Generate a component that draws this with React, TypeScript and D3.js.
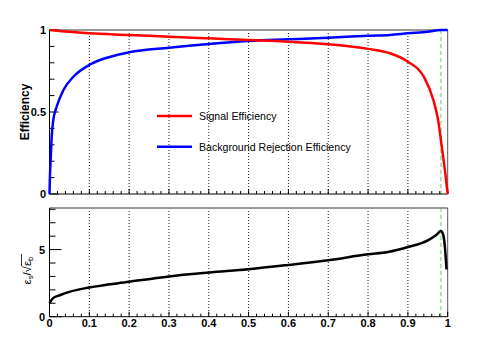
import React from "react";
import * as d3 from "d3";

// cut values (x axis) and the three curves
const sigCut = [0, 0.1, 0.2, 0.3, 0.4, 0.5, 0.6, 0.7, 0.8, 0.855, 0.9, 0.94, 0.964, 0.976, 0.985, 0.993, 1.0];
const sigEff = [1.0, 0.98, 0.97, 0.959, 0.949, 0.939, 0.929, 0.913, 0.885, 0.858, 0.807, 0.715, 0.573, 0.45, 0.29, 0.146, 0.0];

const bkgCut = [0, 0.001, 0.003, 0.0055, 0.0095, 0.018, 0.035, 0.06, 0.1, 0.127, 0.2, 0.3, 0.4, 0.5, 0.6, 0.7, 0.8, 0.855, 0.9, 0.95, 0.983, 1.0];
const bkgRej = [0, 0.1, 0.21, 0.35, 0.45, 0.532, 0.634, 0.715, 0.787, 0.817, 0.864, 0.892, 0.915, 0.933, 0.943, 0.953, 0.965, 0.97, 0.98, 0.99, 1.0, 1.0];

const sigCut2 = [0, 0.005, 0.01, 0.026, 0.05, 0.1, 0.2, 0.3, 0.4, 0.5, 0.6, 0.7, 0.8, 0.85, 0.9, 0.95, 0.972, 0.983, 0.989, 0.993, 0.997];
const signif = [1.0, 1.25, 1.4, 1.6, 1.85, 2.18, 2.6, 3.0, 3.29, 3.54, 3.86, 4.21, 4.65, 4.82, 5.19, 5.69, 6.11, 6.38, 6.06, 5.19, 3.52];

const xTicks = [0, 0.1, 0.2, 0.3, 0.4, 0.5, 0.6, 0.7, 0.8, 0.9, 1];
const xTickLabels = ["0", "0.1", "0.2", "0.3", "0.4", "0.5", "0.6", "0.7", "0.8", "0.9", "1"];
const topYTicks = [0, 0.5, 1];
const topYLabels = ["0", "0.5", "1"];
const botYTicks = [0, 5];
const botYLabels = ["0", "5"];
const optimalCut = 0.983;

const legendItems = ["Signal Efficiency", "Background Rejection Efficiency"];
const legendColors = ["#ff0000", "#0000ff"];

const FONT = "'Liberation Sans', Arial, Helvetica, sans-serif";

export default function App() {
  const left = 49.5, right = 447.7;
  const topT = 30, topB = 194;
  const botT = 208, botB = 316.7;

  const x = d3.scaleLinear().domain([0, 1]).range([left, right]);
  const yTop = d3.scaleLinear().domain([0, 1]).range([topB, topT]);
  const yBot = d3.scaleLinear().domain([0, 8.1]).range([botB, botT]);

  const lineTop = d3
    .line<[number, number]>()
    .x((d) => x(d[0]))
    .y((d) => yTop(d[1]))
    .curve(d3.curveMonotoneX);
  const lineBot = d3
    .line<[number, number]>()
    .x((d) => x(d[0]))
    .y((d) => yBot(d[1]))
    .curve(d3.curveMonotoneX);

  const sigPath = lineTop(sigCut.map((c, i) => [c, sigEff[i]]) as [number, number][]) || "";
  const bkgPath = lineTop(bkgCut.map((c, i) => [c, bkgRej[i]]) as [number, number][]) || "";
  const sfPath = lineBot(sigCut2.map((c, i) => [c, signif[i]]) as [number, number][]) || "";

  const minorX = d3.range(0, 51).map((i) => i / 50);
  const topMinorY = d3.range(0, 11).map((i) => i / 10);
  const botMinorY = d3.range(0, 9);

  const panel = (t: number, b: number) => (
    <g>
      {/* grid */}
      {xTicks.slice(1, -1).map((v) => (
        <line key={"g" + v} x1={x(v)} x2={x(v)} y1={t} y2={b} stroke="#222" strokeWidth={1} strokeDasharray="1,2" />
      ))}
      <line x1={x(optimalCut)} x2={x(optimalCut)} y1={t} y2={b} stroke="#6c6" strokeWidth={1} strokeDasharray="4,3" />
      {/* frame */}
      <line x1={left} x2={right} y1={t} y2={t} stroke="#999" strokeWidth={2} />
      <line x1={right} x2={right} y1={t} y2={b} stroke="#555" strokeWidth={1} />
      <line x1={left} x2={left} y1={t} y2={b} stroke="#000" strokeWidth={1} />
      <line x1={left} x2={right} y1={b} y2={b} stroke="#000" strokeWidth={1} />
      {minorX.map((v, i) => (
        <line key={"xt" + i} x1={x(v)} x2={x(v)} y1={b} y2={b - (i % 5 === 0 ? 5 : 3)} stroke="#000" strokeWidth={1} />
      ))}
    </g>
  );

  return (
    <svg width={498} height={338} style={{ position: "absolute", left: 0, top: 0, background: "#fff" }} fontFamily={FONT}>
      <rect width={498} height={338} fill="#fff" />
      {panel(topT, topB)}
      {panel(botT, botB)}

      {/* top y ticks */}
      {topMinorY.map((v, i) => (
        <line key={"ty" + i} x1={left} x2={left + (i % 5 === 0 ? 9 : 5)} y1={yTop(v)} y2={yTop(v)} stroke="#000" strokeWidth={1} />
      ))}
      {topYTicks.map((v, i) => (
        <text key={"tyl" + i} x={46} y={yTop(v)} dy="0.36em" textAnchor="end" fontSize={11} fontWeight="bold">
          {topYLabels[i]}
        </text>
      ))}
      <text transform={`translate(29,${(topT + topB) / 2}) rotate(-90)`} textAnchor="middle" fontSize={12} fontWeight="bold">
        Efficiency
      </text>

      {/* bottom y ticks */}
      {botMinorY.map((v, i) => (
        <line key={"by" + i} x1={left} x2={left + (i % 5 === 0 ? 12 : 6)} y1={yBot(v)} y2={yBot(v)} stroke="#000" strokeWidth={1} />
      ))}
      {botYTicks.map((v, i) => (
        <text key={"byl" + i} x={45} y={yBot(v)} dy="0.36em" textAnchor="end" fontSize={11} fontWeight="bold">
          {botYLabels[i]}
        </text>
      ))}
      <g transform={`translate(31,${yBot(2.4)}) rotate(-90)`} fontSize={11.5}>
        <text x={0} y={0}>
          ε<tspan fontSize={7.5} dy={2}>s</tspan>
          <tspan dy={-2}>/</tspan>
          <tspan>√</tspan>
          <tspan>ε</tspan>
          <tspan fontSize={7.5} dy={2}>b</tspan>
        </text>
        <line x1={18.3} x2={30.5} y1={-9.5} y2={-9.5} stroke="#000" strokeWidth={0.8} />
      </g>

      {/* x tick labels */}
      {xTicks.map((v, i) => (
        <text key={"xl" + i} x={x(v)} y={323} dy="0.36em" textAnchor="middle" fontSize={11} fontWeight="bold">
          {xTickLabels[i]}
        </text>
      ))}

      {/* curves */}
      <path d={bkgPath} fill="none" stroke="#0000ff" strokeWidth={2.5} />
      <path d={sigPath} fill="none" stroke="#ff0000" strokeWidth={2.5} />
      <path d={sfPath} fill="none" stroke="#000" strokeWidth={2.5} />

      {/* legend */}
      {legendItems.map((lab, i) => (
        <g key={lab}>
          <line x1={157} x2={192} y1={116 + i * 30.7} y2={116 + i * 30.7} stroke={legendColors[i]} strokeWidth={2.5} />
          <text x={199} y={116 + i * 30.7} dy="0.36em" fontSize={10.6}>
            {lab}
          </text>
        </g>
      ))}
    </svg>
  );
}
